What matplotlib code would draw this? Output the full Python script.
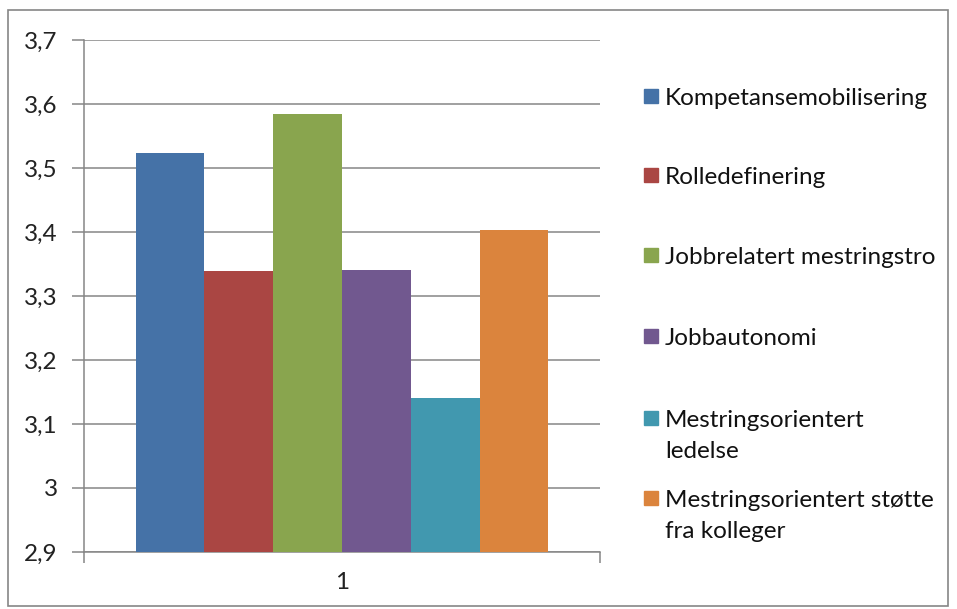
import matplotlib.pyplot as plt
from matplotlib.patches import Rectangle

# data
labels = ['Kompetansemobilisering', 'Rolledefinering', 'Jobbrelatert mestringstro',
          'Jobbautonomi', 'Mestringsorientert\nledelse', 'Mestringsorientert støtte\nfra kolleger']
values = [3.524, 3.339, 3.584, 3.341, 3.141, 3.403]
colors = ['#4572A7', '#AA4643', '#89A54E', '#71588F', '#4198AF', '#DB843D']
yticks = [2.9, 3.0, 3.1, 3.2, 3.3, 3.4, 3.5, 3.6, 3.7]
ytick_labels = ['2,9', '3', '3,1', '3,2', '3,3', '3,4', '3,5', '3,6', '3,7']
category = ['1']

plt.rcParams['font.family'] = ['Lato', 'DejaVu Sans']
W, H = 957, 609
fig = plt.figure(figsize=(W / 100, H / 100), dpi=100)

# outer chart border
fig.patches.append(Rectangle((8 / W, 3 / H), 940 / W, 596 / H, transform=fig.transFigure,
                             fill=False, edgecolor='#868686', linewidth=1.2))

ax = fig.add_axes([84 / W, 57 / H, 516 / W, 512 / H])
grid_c = '#868686'

n = len(values)
w = 0.8 / n
for i in range(n):
    ax.bar(-0.4 + w * (i + 0.5), values[i] - 2.9, width=w, bottom=2.9,
           color=colors[i], zorder=3)

ax.set_xlim(-0.5, 0.5)
ax.set_ylim(2.9, 3.7)
ax.set_yticks(yticks)
ax.set_yticklabels(ytick_labels, fontsize=17.5, color='#222222')
ax.yaxis.grid(True, color=grid_c, linewidth=1.1, zorder=0)
ax.tick_params(axis='y', length=9, width=1.1, color=grid_c, pad=10)

# category axis: ticks on the boundaries, label at the center
ax.set_xticks([-0.5, 0.5])
ax.set_xticklabels(['', ''])
ax.tick_params(axis='x', length=8, width=1.1, color=grid_c)
ax.text(0, -0.04, category[0], transform=ax.get_xaxis_transform(), ha='center', va='top',
        fontsize=17.5, color='#222222')

for s in ['top', 'right']:
    ax.spines[s].set_visible(False)
for s in ['left', 'bottom']:
    ax.spines[s].set_color(grid_c)
    ax.spines[s].set_linewidth(1.1)

# legend drawn like the Excel one: square aligned with first text line
baselines = [105, 184, 264, 345, 427, 507]
for lab, c, b in zip(labels, colors, baselines):
    fig.patches.append(Rectangle((644 / W, 1 - (b - 2) / H), 14 / W, 14 / H,
                                 transform=fig.transFigure, color=c))
    for k, line in enumerate(lab.split('\n')):
        fig.text(665 / W, 1 - (b + 31 * k) / H, line, fontsize=17.5, color='#111111',
                 va='baseline', ha='left')

plt.savefig('out.png', dpi=100)
